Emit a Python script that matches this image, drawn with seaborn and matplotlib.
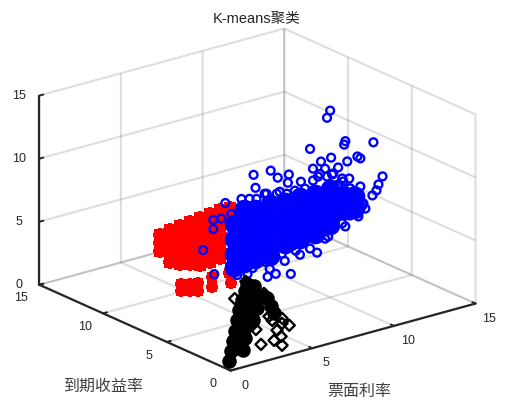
import matplotlib
matplotlib.use("Agg")
import matplotlib.pyplot as plt
import seaborn as sns

sns.set_theme(style="white")
plt.rcParams['font.family'] = ['Liberation Sans', 'Noto Sans CJK SC']

ticks = [0, 5, 10, 15]

# the depth of each group cannot be read from one view, so it is a single estimate
red_depth = 11.0
red_x = [4.25, 4.25, 4.25, 4.86, 4.86, 4.86, 4.86, 4.86, 5.48, 5.48, 5.48, 5.48, 5.48, 5.48,
         6.10, 6.10, 6.10, 6.10, 6.10, 6.10, 6.72, 6.72, 6.72, 6.72, 6.72, 6.72, 6.72,
         7.33, 7.33, 7.33, 7.33, 7.33, 7.33, 7.33, 7.95, 7.95, 7.95, 7.95, 7.95, 7.95, 7.95,
         8.57, 8.57]
red_z = [4.26, 3.63, 3.00, 4.44, 3.81, 3.17, 2.54, 1.90, 4.55, 3.91, 3.28, 2.64, 2.00, 1.53,
         4.65, 4.02, 3.38, 2.75, 2.11, 1.32, 4.75, 4.11, 3.48, 2.84, 2.21, 1.57, 1.02,
         4.85, 4.21, 3.58, 2.94, 2.31, 1.67, 1.04, 4.95, 4.32, 3.68, 3.05, 2.41, 1.78, 1.14,
         4.90, 4.26]

lump_depth = 9.0
lump_x = [4.02, 4.02, 4.52, 4.52, 5.01, 5.01, 5.88, 5.88, 7.05, 6.92]
lump_z = [1.39, 0.83, 1.21, 0.66, 1.05, 0.49, 1.29, 0.50, 0.33, 1.17]

blue_depth = 5.0
blue_core_x = [4.14, 4.14, 4.14, 4.14, 4.75, 4.75, 4.75, 4.75, 4.75, 5.37, 5.37, 5.37, 5.37, 5.37,
               6.30, 6.30, 6.30, 6.30, 6.30, 7.22, 7.22, 7.22, 7.22, 8.15, 8.15, 8.15, 8.15,
               9.07, 9.07, 9.07, 9.07, 10.0, 10.0, 10.0, 10.0, 10.93, 10.93, 11.54, 11.54]
blue_core_z = [7.89, 6.70, 5.51, 4.48, 8.87, 7.91, 6.80, 5.69, 4.58, 8.65, 7.70, 6.59, 5.48, 4.68,
               8.72, 7.60, 6.50, 5.39, 4.60, 8.56, 7.45, 6.34, 5.23, 8.63, 7.52, 6.41, 5.30,
               8.55, 7.44, 6.33, 5.37, 8.62, 7.51, 6.40, 5.76, 7.67, 6.56, 7.45, 6.50]
blue_x = [10.0, 9.81, 10.93, 10.86, 12.65, 8.77, 10.06, 9.44, 8.95, 11.67, 11.85, 11.05, 10.49,
          13.21, 12.96, 12.59, 12.84, 11.17, 5.31, 6.36, 6.79, 7.47, 5.43, 7.41, 8.21, 8.95, 9.81,
          11.85, 12.04, 11.73, 10.74, 9.88, 9.20, 7.90, 6.05, 6.48, 5.25, 4.32, 2.90, 2.22, 6.17,
          6.67, 7.59, 3.58, 4.57, 2.84, 2.84, 9.69, 10.12, 10.74, 9.26, 8.46, 10.49, 11.23, 11.73,
          12.16, 11.36, 11.23, 7.84, 5.99, 6.91, 5.06, 3.95, 3.33, 6.30, 7.22, 8.15, 8.77, 4.94,
          9.69, 10.93, 9.38, 10.19, 10.80, 11.42, 10.62, 9.81, 8.95, 8.15, 7.35, 6.73, 6.11, 5.49,
          11.42, 11.98, 11.67, 11.23, 10.12, 9.50, 9.07, 8.33, 7.72, 7.04, 6.42]
blue_z = [14.8, 14.3, 12.05, 11.8, 11.35, 12.2, 11.05, 10.96, 10.57, 10.57, 10.36, 10.4, 10.12,
          8.45, 7.90, 7.16, 7.47, 9.00, 11.37, 11.33, 10.62, 10.63, 10.3, 10.0, 9.80, 9.63, 9.64,
          8.13, 6.72, 5.80, 5.60, 4.86, 3.82, 4.43, 4.20, 4.20, 4.00, 3.78, 4.35, 6.50, 2.98,
          3.04, 2.71, 9.75, 9.72, 8.67, 7.95, 10.3, 9.69, 9.16, 9.83, 9.16, 8.77, 8.20, 7.20,
          6.27, 6.17, 6.99, 9.22, 9.63, 9.46, 9.56, 8.76, 8.60, 3.56, 3.87, 4.03, 4.30, 3.65,
          4.76, 5.29, 10.0, 9.75, 8.90, 7.89, 8.64, 8.69, 8.83, 8.87, 9.15, 9.37, 9.59, 9.40,
          7.33, 6.58, 6.05, 6.05, 5.56, 5.46, 5.37, 5.00, 4.90, 4.50, 4.32]

black_depth = 0.5
black_core_x = [0.27, 0.40, 0.52, 0.64, 0.77, 0.89, 1.07, 1.26, 1.38, 1.51, 1.26, 1.20, 1.38,
                1.63, 1.88, 1.81, 0.89, 2.86, 3.05, 2.63, 0.77, 1.14, 1.75, 2.00, 2.25, 0.89]
black_core_z = [0.47, 1.21, 1.97, 2.71, 3.50, 4.22, 4.95, 5.67, 6.11, 4.95, 1.87, 2.68, 3.41,
                4.12, 4.98, 5.80, 1.21, 3.85, 3.23, 4.56, 1.64, 0.96, 3.13, 3.99, 4.86, 3.19]
black_x = [3.54, 3.98, 3.23, 3.48, 3.05, 3.54, 1.94, 2.25, 1.69, 1.32, 2.43, 0.64, 2.93, 3.54, 2.74]
black_z = [2.66, 1.95, 1.82, 1.25, 1.08, 0.52, 2.34, 1.05, 2.74, 6.37, 5.03, 5.25, 2.71, 2.26, 3.10]

palette = sns.color_palette(["#ff0000", "#0000ff", "#000000"])

fig = plt.figure(figsize=(5.12, 4.02), dpi=100)
ax = fig.add_axes([-4 / 512, -5 / 402, 1, 1], projection='3d', proj_type='ortho', computed_zorder=False)
ax.view_init(elev=20.5, azim=-128)
ax.set_box_aspect((1, 1, 0.65), zoom=1.168)

# red cloud: solid squares under jagged plus signs
ax.scatter(red_x, [red_depth] * len(red_x), red_z, marker='s', s=75, color=palette[0],
           linewidths=0, depthshade=False)
ax.scatter(red_x, [red_depth] * len(red_x), red_z, marker='P', s=115, color=palette[0],
           linewidths=0, depthshade=False)
ax.scatter(lump_x, [lump_depth] * len(lump_x), lump_z, marker='s', s=50, color=palette[0],
           linewidths=0, depthshade=False)
ax.scatter(lump_x, [lump_depth] * len(lump_x), lump_z, marker='P', s=75, color=palette[0],
           linewidths=0, depthshade=False)
ax.scatter(blue_core_x, [blue_depth] * len(blue_core_x), blue_core_z, marker='o', s=200,
           color=palette[1], linewidths=0, depthshade=False)
ax.scatter(blue_x, [blue_depth] * len(blue_x), blue_z, marker='o', s=32, facecolors='none',
           edgecolors=palette[1], linewidths=1.7, depthshade=False)
ax.scatter(black_core_x, [black_depth] * len(black_core_x), black_core_z, marker='o', s=110,
           color=palette[2], linewidths=0, depthshade=False)
ax.scatter(black_x, [black_depth] * len(black_x), black_z, marker='D', s=32, facecolors='none',
           edgecolors=palette[2], linewidths=1.7, depthshade=False)

ax.set_xlim(0, 15)
ax.set_ylim(0, 15)
ax.set_zlim(0, 15)
ax.set_xticks(ticks)
ax.set_yticks(ticks)
ax.set_zticks(ticks)

grid_rgba = (0.15, 0.15, 0.15, 0.15)
for axis in [ax.xaxis, ax.yaxis, ax.zaxis]:
    axis.set_pane_color((1, 1, 1, 0))
    axis.pane.set_edgecolor(grid_rgba)
    axis.pane.set_linewidth(1.5)
    axis.line.set_color('#262626')
    axis.line.set_linewidth(1.6)
    axis._axinfo['grid'].update(color=grid_rgba, linewidth=1.5)
    axis._axinfo['tick'].update(inward_factor=0.0, outward_factor=0.2, linewidth={True: 1.4, False: 1.4})
ax.tick_params(axis='x', labelsize=9, colors='#262626', pad=3)
ax.tick_params(axis='y', labelsize=9, colors='#262626', pad=3)
ax.tick_params(axis='z', labelsize=9, colors='#262626', pad=-1)

for lab in ax.get_xticklabels() + ax.get_yticklabels():
    lab.set_va('bottom')
for lab in ax.get_zticklabels():
    lab.set_va('center')

fig.text(0.502, 0.953, 'K-means聚类', fontsize=10.5, color='#262626', ha='center', va='center')
fig.text(0.201, 0.038, '到期收益率', fontsize=11.5, color='#404040', ha='center', va='center')
fig.text(0.702, 0.025, '票面利率', fontsize=11.5, color='#404040', ha='center', va='center')

fig.savefig('out.png', dpi=100)
